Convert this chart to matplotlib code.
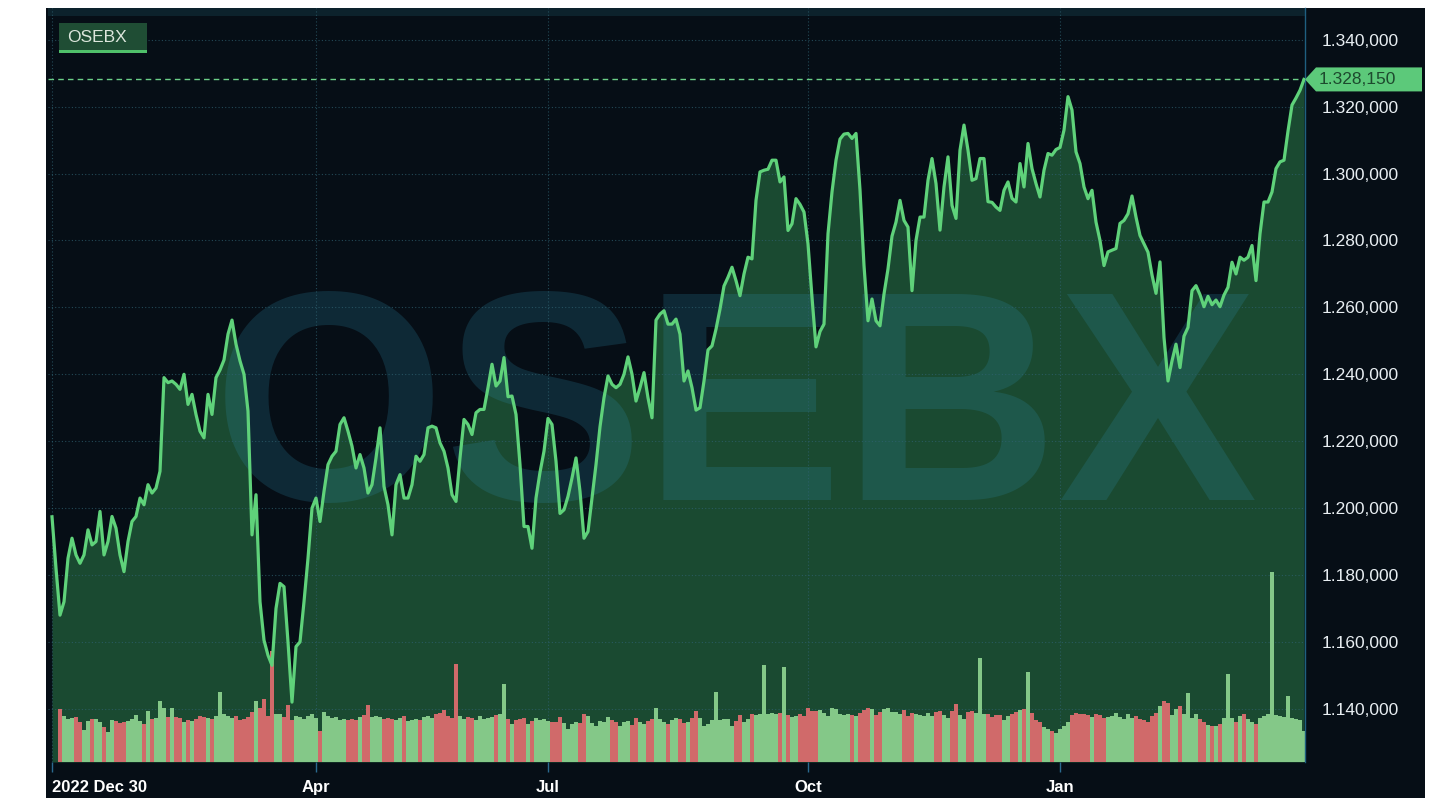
import matplotlib
matplotlib.use("Agg")
import numpy as np
import pandas as pd
import matplotlib.pyplot as plt
from matplotlib.patches import Rectangle, Polygon
from matplotlib.transforms import blended_transform_factory, Affine2D, IdentityTransform

plt.rcParams['font.family'] = ['Liberation Sans', 'DejaVu Sans']

# OSEBX daily close, 2022-12-30 .. 2024-03
close = [
    1197.4, 1182, 1168, 1172, 1185, 1191, 1186, 1183.5, 1186, 1193.5,
    1189, 1190, 1199, 1186, 1190, 1197.5, 1194, 1186, 1181, 1190,
    1196, 1197.5, 1203, 1201, 1207, 1204.5, 1206, 1211, 1239, 1237.5,
    1238, 1237, 1235.5, 1240, 1231, 1234, 1228, 1223, 1221, 1234,
    1228, 1239, 1241.3, 1244.3, 1252, 1256.2, 1249, 1244, 1240, 1229,
    1192, 1204, 1172, 1160.5, 1156, 1153, 1170, 1177.5, 1176.5, 1160,
    1142, 1158.6, 1160, 1172, 1185, 1200, 1203, 1196, 1205, 1213,
    1215.5, 1217, 1225, 1227, 1223, 1218.5, 1212, 1216, 1212, 1204.5,
    1207, 1215, 1224, 1206.5, 1201, 1192, 1207, 1210, 1203, 1203,
    1207, 1215.5, 1214, 1216, 1224, 1224.5, 1224, 1219.5, 1217, 1212,
    1204, 1202, 1215, 1226.5, 1225, 1222, 1228.5, 1229.5, 1229.5, 1236,
    1243, 1236.5, 1238, 1245, 1233.3, 1233.5, 1228, 1213, 1194.5, 1194.5,
    1188, 1203, 1210.7, 1217, 1226.8, 1225, 1214, 1198.4, 1199.5, 1203.5,
    1209, 1215, 1205, 1191, 1193, 1203, 1213, 1224.3, 1233, 1239.5,
    1237, 1236, 1237, 1240, 1245.2, 1240, 1232, 1236, 1240.5, 1233,
    1227, 1256.2, 1258, 1259, 1255, 1255, 1256.5, 1252, 1238, 1241,
    1236, 1229.3, 1230, 1238, 1247.3, 1248.5, 1253.5, 1259.5, 1266.4, 1269,
    1272, 1268, 1263.5, 1270, 1275, 1274.5, 1292, 1300.5, 1301, 1301.3,
    1304, 1304, 1297.5, 1299, 1283, 1285, 1292.5, 1290.8, 1288.5, 1279,
    1263, 1248.2, 1252.8, 1255, 1282, 1294.5, 1304, 1310.3, 1311.8, 1312,
    1310.5, 1312, 1295.1, 1272.5, 1256, 1262.5, 1256, 1254.5, 1264, 1271.5,
    1281.3, 1285.5, 1292, 1286, 1284, 1265, 1280, 1287, 1287, 1298,
    1304.5, 1297, 1283.1, 1296, 1305, 1290.5, 1286.6, 1307, 1314.5, 1307,
    1298, 1298.5, 1304.5, 1304.5, 1291.6, 1291.4, 1290, 1289, 1295, 1297.5,
    1292.6, 1291.5, 1303, 1296, 1309, 1301.5, 1297, 1293, 1301, 1306,
    1305.5, 1307.2, 1307.8, 1313, 1323, 1319, 1306.5, 1303, 1296, 1292.5,
    1295, 1285.5, 1280, 1272.5, 1276.6, 1277.1, 1277.6, 1285.1, 1286, 1288,
    1293.3, 1287, 1281.5, 1279, 1276.5, 1269.7, 1264.2, 1273.6, 1251, 1238,
    1244, 1249, 1242, 1251.4, 1254, 1265, 1266.5, 1263.8, 1260.2, 1263.3,
    1260.8, 1262.2, 1260.2, 1263.7, 1266, 1273.5, 1270, 1275, 1274.1, 1275,
    1278.5, 1268, 1282, 1291.5, 1291.5, 1294.5, 1301.5, 1303.5, 1304, 1312.7,
    1320.5, 1322.6, 1324.9, 1328.15,
]

# turnover, relative units
volume = [
    0, 0, 5.3, 4.6, 4.3, 4.4, 4.5, 4.0, 3.2, 4.1,
    4.3, 4.3, 4.0, 3.5, 3.0, 4.2, 4.1, 3.9, 4.0, 4.1,
    4.3, 4.7, 4.1, 3.8, 5.1, 4.3, 4.4, 6.1, 5.4, 4.5,
    5.4, 4.5, 4.4, 4.0, 4.2, 4.1, 4.3, 4.6, 4.5, 4.4,
    4.3, 4.6, 7.0, 4.8, 4.6, 4.4, 4.6, 4.2, 4.3, 4.5,
    5.0, 6.1, 5.4, 6.3, 4.6, 11.1, 4.8, 4.8, 4.5, 5.7,
    4.2, 4.6, 4.5, 4.3, 4.6, 4.8, 4.4, 3.1, 5.0, 4.6,
    4.4, 4.5, 4.2, 4.3, 4.2, 4.3, 4.2, 4.5, 4.7, 5.7,
    4.5, 4.6, 4.5, 4.3, 4.4, 4.3, 4.2, 4.4, 4.6, 4.1,
    4.2, 4.3, 4.2, 4.5, 4.6, 4.4, 4.8, 4.9, 5.2, 4.6,
    4.4, 9.8, 4.6, 4.3, 4.5, 4.4, 4.2, 4.6, 4.3, 4.4,
    4.5, 4.7, 4.8, 7.8, 4.3, 3.8, 4.2, 4.3, 4.4, 3.8,
    4.1, 4.4, 4.2, 4.3, 4.1, 4.0, 4.0, 4.5, 3.9, 3.3,
    3.8, 4.0, 3.9, 4.8, 4.6, 3.9, 3.6, 4.1, 4.0, 4.5,
    4.2, 4.0, 3.6, 4.0, 4.1, 3.7, 4.4, 4.0, 3.8, 4.1,
    4.3, 5.4, 4.3, 4.0, 3.8, 4.2, 4.4, 4.3, 3.9, 4.0,
    4.4, 5.1, 4.4, 3.6, 3.8, 4.2, 7.0, 4.2, 4.3, 4.3,
    3.6, 4.1, 4.7, 4.0, 4.3, 4.8, 4.7, 4.8, 9.7, 4.8,
    4.9, 4.8, 4.9, 9.5, 4.7, 4.5, 4.6, 4.8, 4.6, 5.4,
    5.1, 5.1, 5.2, 4.9, 4.6, 5.4, 5.3, 4.8, 4.7, 4.8,
    4.7, 4.6, 4.9, 5.2, 5.4, 5.3, 4.7, 5.0, 5.3, 5.4,
    5.0, 5.0, 4.8, 5.2, 4.6, 4.9, 4.8, 4.7, 4.6, 4.9,
    4.6, 5.0, 5.1, 4.7, 4.4, 5.1, 5.8, 4.7, 4.3, 5.0,
    5.1, 4.9, 10.4, 4.8, 4.8, 4.5, 4.7, 4.7, 4.2, 4.6,
    4.8, 5.0, 5.2, 5.3, 9.0, 4.9, 4.2, 4.0, 3.5, 3.3,
    3.1, 2.9, 3.3, 3.6, 4.0, 4.7, 4.9, 4.8, 4.8, 4.7,
    4.5, 4.8, 4.7, 4.4, 4.5, 4.6, 4.9, 4.5, 4.3, 4.8,
    4.4, 4.6, 4.3, 4.2, 4.0, 4.6, 4.9, 5.6, 6.1, 5.9,
    4.7, 5.3, 5.6, 4.8, 6.9, 4.4, 4.8, 4.3, 4.0, 3.7,
    3.6, 3.6, 3.8, 4.4, 8.8, 4.4, 4.0, 4.6, 4.8, 4.3,
    4.0, 3.8, 4.4, 4.6, 4.8, 19.0, 4.7, 4.6, 4.5, 6.6,
    4.4, 4.3, 4.2, 3.1,
]

# Oslo Børs closed days in the period
holidays = ['2023-04-06', '2023-04-07', '2023-04-10', '2023-05-01', '2023-05-17',
            '2023-05-18', '2023-05-29', '2023-12-25', '2023-12-26', '2024-01-01']
tick_months = [(2023, 4, 'Apr'), (2023, 7, 'Jul'), (2023, 10, 'Oct'), (2024, 1, 'Jan')]
yticks = [1140, 1160, 1180, 1200, 1220, 1240, 1260, 1280, 1300, 1320, 1340]

dates = pd.bdate_range('2022-12-30', '2024-06-30', freq='C', holidays=holidays)[:len(close)]
x = np.arange(len(close))

def nok(v):
    s = f"{v:,.3f}"
    return s.replace(',', '#').replace('.', ',').replace('#', '.')

W, H = 1434, 798
BG = '#060e16'
fig = plt.figure(figsize=(W / 100, H / 100), dpi=100, facecolor='white')
fig.add_artist(Rectangle((46, 0), 1379, 790, transform=IdentityTransform(),
                         color=BG, lw=0, zorder=-1))

ax = fig.add_axes([48 / W, 1 - 762 / H, (1305 - 48) / W, (762 - 8) / H])
ax.set_facecolor(BG)
ymin, ymax = 1124.1, 1349.5

ax.add_patch(Rectangle((0, 1 - 8 / 754), 1, 8 / 754, transform=ax.transAxes,
                       color='#0c222c', lw=0, zorder=0.6))
ax.fill_between(x, close, ymin, color='#1a4a31', lw=0, zorder=1)
ax.text(0.547, 0.3475, 'OSEBX', transform=ax.transAxes, ha='center', va='baseline',
        fontsize=215, fontweight='bold', color='#2d8aa8', alpha=0.22, zorder=1.2)

# volume bars on their own vertical scale (bottom of the panel)
vol_tr = blended_transform_factory(ax.transData, Affine2D().scale(1, 1 / 75.4) + ax.transAxes)
up = np.r_[True, np.diff(close) >= 0]
vcol = np.where(up, '#84c888', '#d06a6a')
ax.bar(x, volume, width=0.85, color=vcol, transform=vol_tr, lw=0, zorder=2)

ax.plot(x, close, color='#5fd27a', lw=2.3, zorder=3, solid_joinstyle='round')
last = close[-1]
ax.axhline(last, color='#6ccf88', lw=1, ls=(0, (4, 3)), zorder=2.5)

ax.set_xlim(-1, len(close) - 0.75)
ax.set_ylim(ymin, ymax)

ax.set_axisbelow('line')
ax.grid(True, color='#2f6272', ls=(0, (1, 2)), lw=0.8, alpha=0.7)

ax.yaxis.tick_right()
ax.set_yticks(yticks)
ax.set_yticklabels([nok(v) for v in yticks])
ax.tick_params(axis='y', length=0, pad=12, labelsize=12.5, labelcolor='#e8eef2')

tpos = [0]
tlab = ['2022 Dec 30']
for yr, mo, lab in tick_months:
    idx = np.nonzero((dates.year == yr) & (dates.month == mo))[0][0]
    tpos.append(idx)
    tlab.append(lab)
ax.set_xticks(tpos)
ax.set_xticklabels(tlab)
ax.tick_params(axis='x', length=7, width=1, color='#2a6a90', pad=6,
               labelsize=12, labelcolor='white')
for t in ax.get_xticklabels():
    t.set_fontweight('bold')
ax.get_xticklabels()[0].set_ha('left')

for s in ['top', 'left', 'bottom']:
    ax.spines[s].set_visible(False)
ax.spines['right'].set_color('#1f5f80')
ax.spines['right'].set_linewidth(1)

# legend tag
fig.add_artist(Rectangle((59, H - 50), 88, 27, transform=IdentityTransform(),
                         color='#1f4d34', lw=0))
fig.add_artist(Rectangle((59, H - 53), 88, 3, transform=IdentityTransform(),
                         color='#4fc06a', lw=0))
fig.text(67, H - 37, 'OSEBX', transform=IdentityTransform(), va='center',
         fontsize=12.5, color='#dce6dc')

# last price tag
ty = ax.transData.transform((0, last))[1]
fig.add_artist(Polygon([(1305, ty), (1316, ty + 12), (1422, ty + 12), (1422, ty - 12),
                        (1316, ty - 12)], closed=True, transform=IdentityTransform(),
                       color='#5cc97a', lw=0))
fig.text(1319, ty, nok(last), transform=IdentityTransform(), va='center',
         fontsize=12.5, color='#1d4a2e')

fig.savefig('out.png', dpi=100, facecolor='white')
